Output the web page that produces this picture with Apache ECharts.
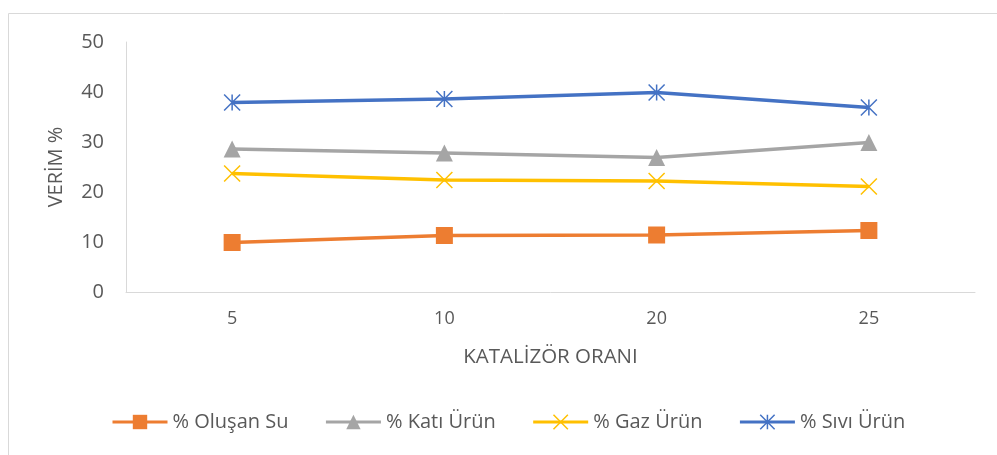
<!DOCTYPE html>
<html>
<head>
<meta charset="utf-8">
<script src="https://cdn.jsdelivr.net/npm/echarts@6/dist/echarts.min.js"></script>
<style>
  html, body { margin: 0; padding: 0; background: #fff; }
  #chart { width: 997px; height: 455px; }
</style>
</head>
<body>
<div id="chart"></div>
<script>
// katalizör oranları
const categories = ['5', '10', '20', '25']
const yTicks = [0, 10, 20, 30, 40, 50]
const suData = [9.9, 11.3, 11.4, 12.3] // % Oluşan Su
const katiData = [28.6, 27.8, 26.9, 29.9] // % Katı Ürün
const gazData = [23.7, 22.4, 22.2, 21.1] // % Gaz Ürün
const siviData = [37.9, 38.6, 39.9, 36.9] // % Sıvı Ürün

const textColor = '#595959'
const font = '"Open Sans", "Liberation Sans", sans-serif'

const chart = echarts.init(document.getElementById('chart'))
chart.setOption({
  animation: false,
  textStyle: { fontFamily: font },
  graphic: [{
    type: 'rect',
    shape: { x: 8.5, y: 13.5, width: 1200, height: 800 },
    style: { fill: 'none', stroke: '#d9d9d9', lineWidth: 1 },
    silent: true
  }],
  grid: { left: 126, right: 22, top: 42, bottom: 163 },
  legend: {
    bottom: 18,
    left: 106,
    itemWidth: 55,
    itemHeight: 18,
    itemGap: 36,
    itemStyle: { borderWidth: 1.5 },
    lineStyle: { width: 3 },
    textStyle: { color: textColor, fontSize: 20, fontFamily: font }
  },
  xAxis: {
    type: 'category',
    data: categories,
    name: 'KATALİZÖR ORANI',
    nameLocation: 'middle',
    nameGap: 55,
    nameTextStyle: { color: textColor, fontSize: 20.5, fontFamily: font },
    axisLine: { lineStyle: { color: '#d9d9d9', width: 1 } },
    axisTick: { show: false },
    axisLabel: { color: textColor, fontSize: 18, margin: 18, fontFamily: font }
  },
  yAxis: {
    type: 'value',
    min: yTicks[0],
    max: yTicks[yTicks.length - 1],
    interval: 10,
    name: 'VERİM %',
    nameLocation: 'middle',
    nameGap: 60,
    nameRotate: 90,
    nameTextStyle: { color: textColor, fontSize: 20, fontFamily: font },
    axisLine: { show: true, lineStyle: { color: '#d9d9d9', width: 1 } },
    axisTick: { show: false },
    splitLine: { show: false },
    axisLabel: { color: textColor, fontSize: 20, margin: 22, fontFamily: font }
  },
  series: [
    {
      name: '% Oluşan Su',
      type: 'line',
      data: suData,
      symbol: 'rect',
      symbolSize: 17,
      lineStyle: { color: '#ED7D31', width: 3.5 },
      itemStyle: { color: '#ED7D31' }
    },
    {
      name: '% Katı Ürün',
      type: 'line',
      data: katiData,
      symbol: 'triangle',
      symbolSize: 17,
      lineStyle: { color: '#A5A5A5', width: 3.5 },
      itemStyle: { color: '#A5A5A5' }
    },
    {
      name: '% Gaz Ürün',
      type: 'line',
      data: gazData,
      symbol: 'path://M0,0L10,10M10,0L0,10',
      symbolSize: 16,
      lineStyle: { color: '#FFC000', width: 3.5 },
      itemStyle: { color: '#FFC000', borderColor: '#FFC000', borderWidth: 1.5 }
    },
    {
      name: '% Sıvı Ürün',
      type: 'line',
      data: siviData,
      symbol: 'path://M0,0L10,10M10,0L0,10M5,0L5,10',
      symbolSize: 16,
      lineStyle: { color: '#4472C4', width: 3.5 },
      itemStyle: { color: '#4472C4', borderColor: '#4472C4', borderWidth: 1.5 }
    }
  ]
})
</script>
</body>
</html>
